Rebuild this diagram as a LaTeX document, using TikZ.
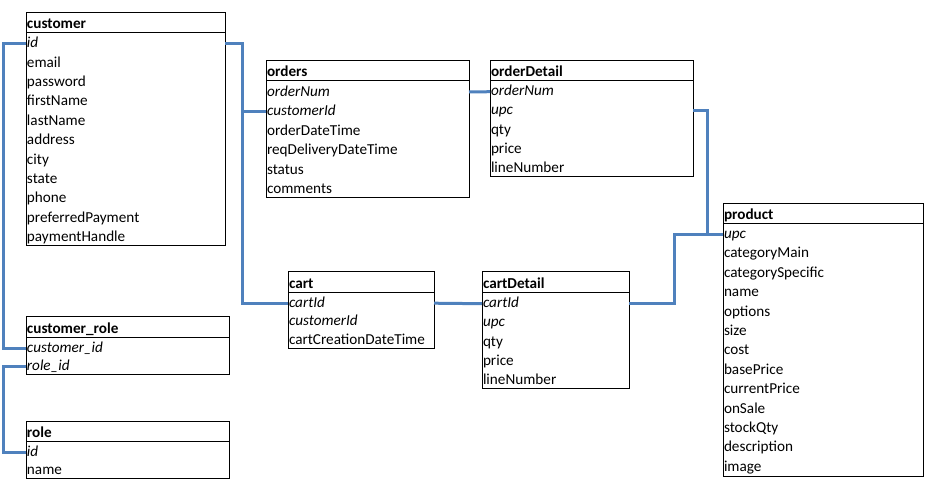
\documentclass[tikz,border=0pt]{standalone}
\usepackage{fontspec}
\setmainfont{Carlito}
\definecolor{connblue}{HTML}{4F81BD}
\tikzset{
  tbl/.style={draw=black, line width=1pt, inner sep=0pt, outer sep=0pt, anchor=north west},
  fld/.style={anchor=base west, inner xsep=1pt, inner ysep=0pt, outer sep=0pt, text height=10pt, text depth=2pt, font=\fontsize{15.2}{17}\selectfont},
  ifld/.style={fld, font=\fontsize{15.2}{17}\selectfont\itshape},
  ttl/.style={fld, font=\fontsize{15.2}{17}\selectfont\bfseries},
  hline/.style={draw=black, line width=1pt},
  conn/.style={draw=connblue, line width=3pt}
}
\begin{document}
\begin{tikzpicture}[x=1pt,y=-1pt]
\useasboundingbox (0,0) rectangle (934,490);

% ---------- customer ----------
\node[tbl, minimum width=199pt, minimum height=233pt] (customer) at (26,12) {};
\draw[hline] (26,32) -- (225,32);
\node[ttl] (cust-t) at (26,28.5) {customer};
\node[ifld] (cust-id) at (26,47.9) {id};
\node[fld] (cust-email) at (26,67.2) {email};
\node[fld] (cust-pw) at (26,86.6) {password};
\node[fld] (cust-fn) at (26,105.9) {firstName};
\node[fld] (cust-ln) at (26,125.3) {lastName};
\node[fld] (cust-ad) at (26,144.7) {address};
\node[fld] (cust-ci) at (26,164.0) {city};
\node[fld] (cust-st) at (26,183.4) {state};
\node[fld] (cust-ph) at (26,202.7) {phone};
\node[fld] (cust-pp) at (26,222.1) {preferredPayment};
\node[fld] (cust-ph2) at (26,241.5) {paymentHandle};

% ---------- orders ----------
\node[tbl, minimum width=203pt, minimum height=137pt] (orders) at (266,60) {};
\draw[hline] (266,80) -- (469,80);
\node[ttl] (ord-t) at (266,76.5) {orders};
\node[ifld] (ord-onum) at (266,96) {orderNum};
\node[ifld] (ord-cid) at (266,115.5) {customerId};
\node[fld] (ord-odt) at (266,135) {orderDateTime};
\node[fld] (ord-rdt) at (266,154.5) {reqDeliveryDateTime};
\node[fld] (ord-st) at (266,174) {status};
\node[fld] (ord-cm) at (266,193.5) {comments};

% ---------- orderDetail ----------
\node[tbl, minimum width=203pt, minimum height=116pt] (orderDetail) at (490,60) {};
\draw[hline] (490,80) -- (693,80);
\node[ttl] (od-t) at (490,76.5) {orderDetail};
\node[ifld] (od-onum) at (490,95.7) {orderNum};
\node[ifld] (od-upc) at (490,114.9) {upc};
\node[fld] (od-qty) at (490,134.1) {qty};
\node[fld] (od-pr) at (490,153.3) {price};
\node[fld] (od-ln) at (490,172.5) {lineNumber};

% ---------- product ----------
\node[tbl, minimum width=200pt, minimum height=273pt] (product) at (723,203) {};
\draw[hline] (723,223) -- (923,223);
\node[ttl] (prod-t) at (723,219.5) {product};
\node[ifld] (prod-upc) at (723,238.5) {upc};
\node[fld] (prod-cm) at (723,257.9) {categoryMain};
\node[fld] (prod-cs) at (723,277.3) {categorySpecific};
\node[fld] (prod-nm) at (723,296.7) {name};
\node[fld] (prod-op) at (723,316.1) {options};
\node[fld] (prod-sz) at (723,335.5) {size};
\node[fld] (prod-co) at (723,354.9) {cost};
\node[fld] (prod-bp) at (723,374.3) {basePrice};
\node[fld] (prod-cp) at (723,393.7) {currentPrice};
\node[fld] (prod-os) at (723,413.1) {onSale};
\node[fld] (prod-sq) at (723,432.5) {stockQty};
\node[fld] (prod-de) at (723,451.9) {description};
\node[fld] (prod-im) at (723,471.3) {image};

% ---------- cart ----------
\node[tbl, minimum width=146pt, minimum height=77pt] (cart) at (288,271) {};
\draw[hline] (288,292) -- (434,292);
\node[ttl] (cart-t) at (288,288.5) {cart};
\node[ifld] (cart-cid) at (288,307.2) {cartId};
\node[ifld] (cart-cuid) at (288,325.8) {customerId};
\node[fld] (cart-cdt) at (288,344.5) {cartCreationDateTime};

% ---------- cartDetail ----------
\node[tbl, minimum width=147pt, minimum height=117pt] (cartDetail) at (482,271) {};
\draw[hline] (482,292) -- (629,292);
\node[ttl] (cd-t) at (482,288.5) {cartDetail};
\node[ifld] (cd-cid) at (482,307.7) {cartId};
\node[ifld] (cd-upc) at (482,326.9) {upc};
\node[fld] (cd-qty) at (482,346.1) {qty};
\node[fld] (cd-pr) at (482,365.3) {price};
\node[fld] (cd-ln) at (482,384.5) {lineNumber};

% ---------- customer_role ----------
\node[tbl, minimum width=203pt, minimum height=58pt] (custrole) at (26,316) {};
\draw[hline] (26,337) -- (229,337);
\node[ttl] (cr-t) at (26,333.5) {customer\_role};
\node[ifld] (cr-cid) at (26,352) {customer\_id};
\node[ifld] (cr-rid) at (26,370.5) {role\_id};

% ---------- role ----------
\node[tbl, minimum width=203pt, minimum height=57pt] (role) at (26,421) {};
\draw[hline] (26,441) -- (229,441);
\node[ttl] (role-t) at (26,437.5) {role};
\node[ifld] (role-id) at (26,456) {id};
\node[fld] (role-nm) at (26,474.5) {name};

% ---------- connectors ----------
\draw[conn] (cust-id.west) -- ++(-23,0) |- (cr-cid.west);
\draw[conn] (cr-rid.west) -- ++(-23,0) |- (role-id.west);
\draw[conn] (cust-id.west -| customer.east) -- ++(17,0) coordinate (cbend) |- (cart-cid.west);
\draw[conn] (ord-cid.west) -- (ord-cid.west -| cbend);
\draw[conn] (ord-onum.west -| orders.east) -- (od-onum.west);
\draw[conn] (cart-cid.west -| cart.east) -- (cd-cid.west);
\draw[conn] (od-upc.west -| orderDetail.east) -- ++(14,0) |- (prod-upc.west);
\draw[conn] (cd-cid.west -| cartDetail.east) -- ++(45,0) |- (prod-upc.west);
\end{tikzpicture}
\end{document}
